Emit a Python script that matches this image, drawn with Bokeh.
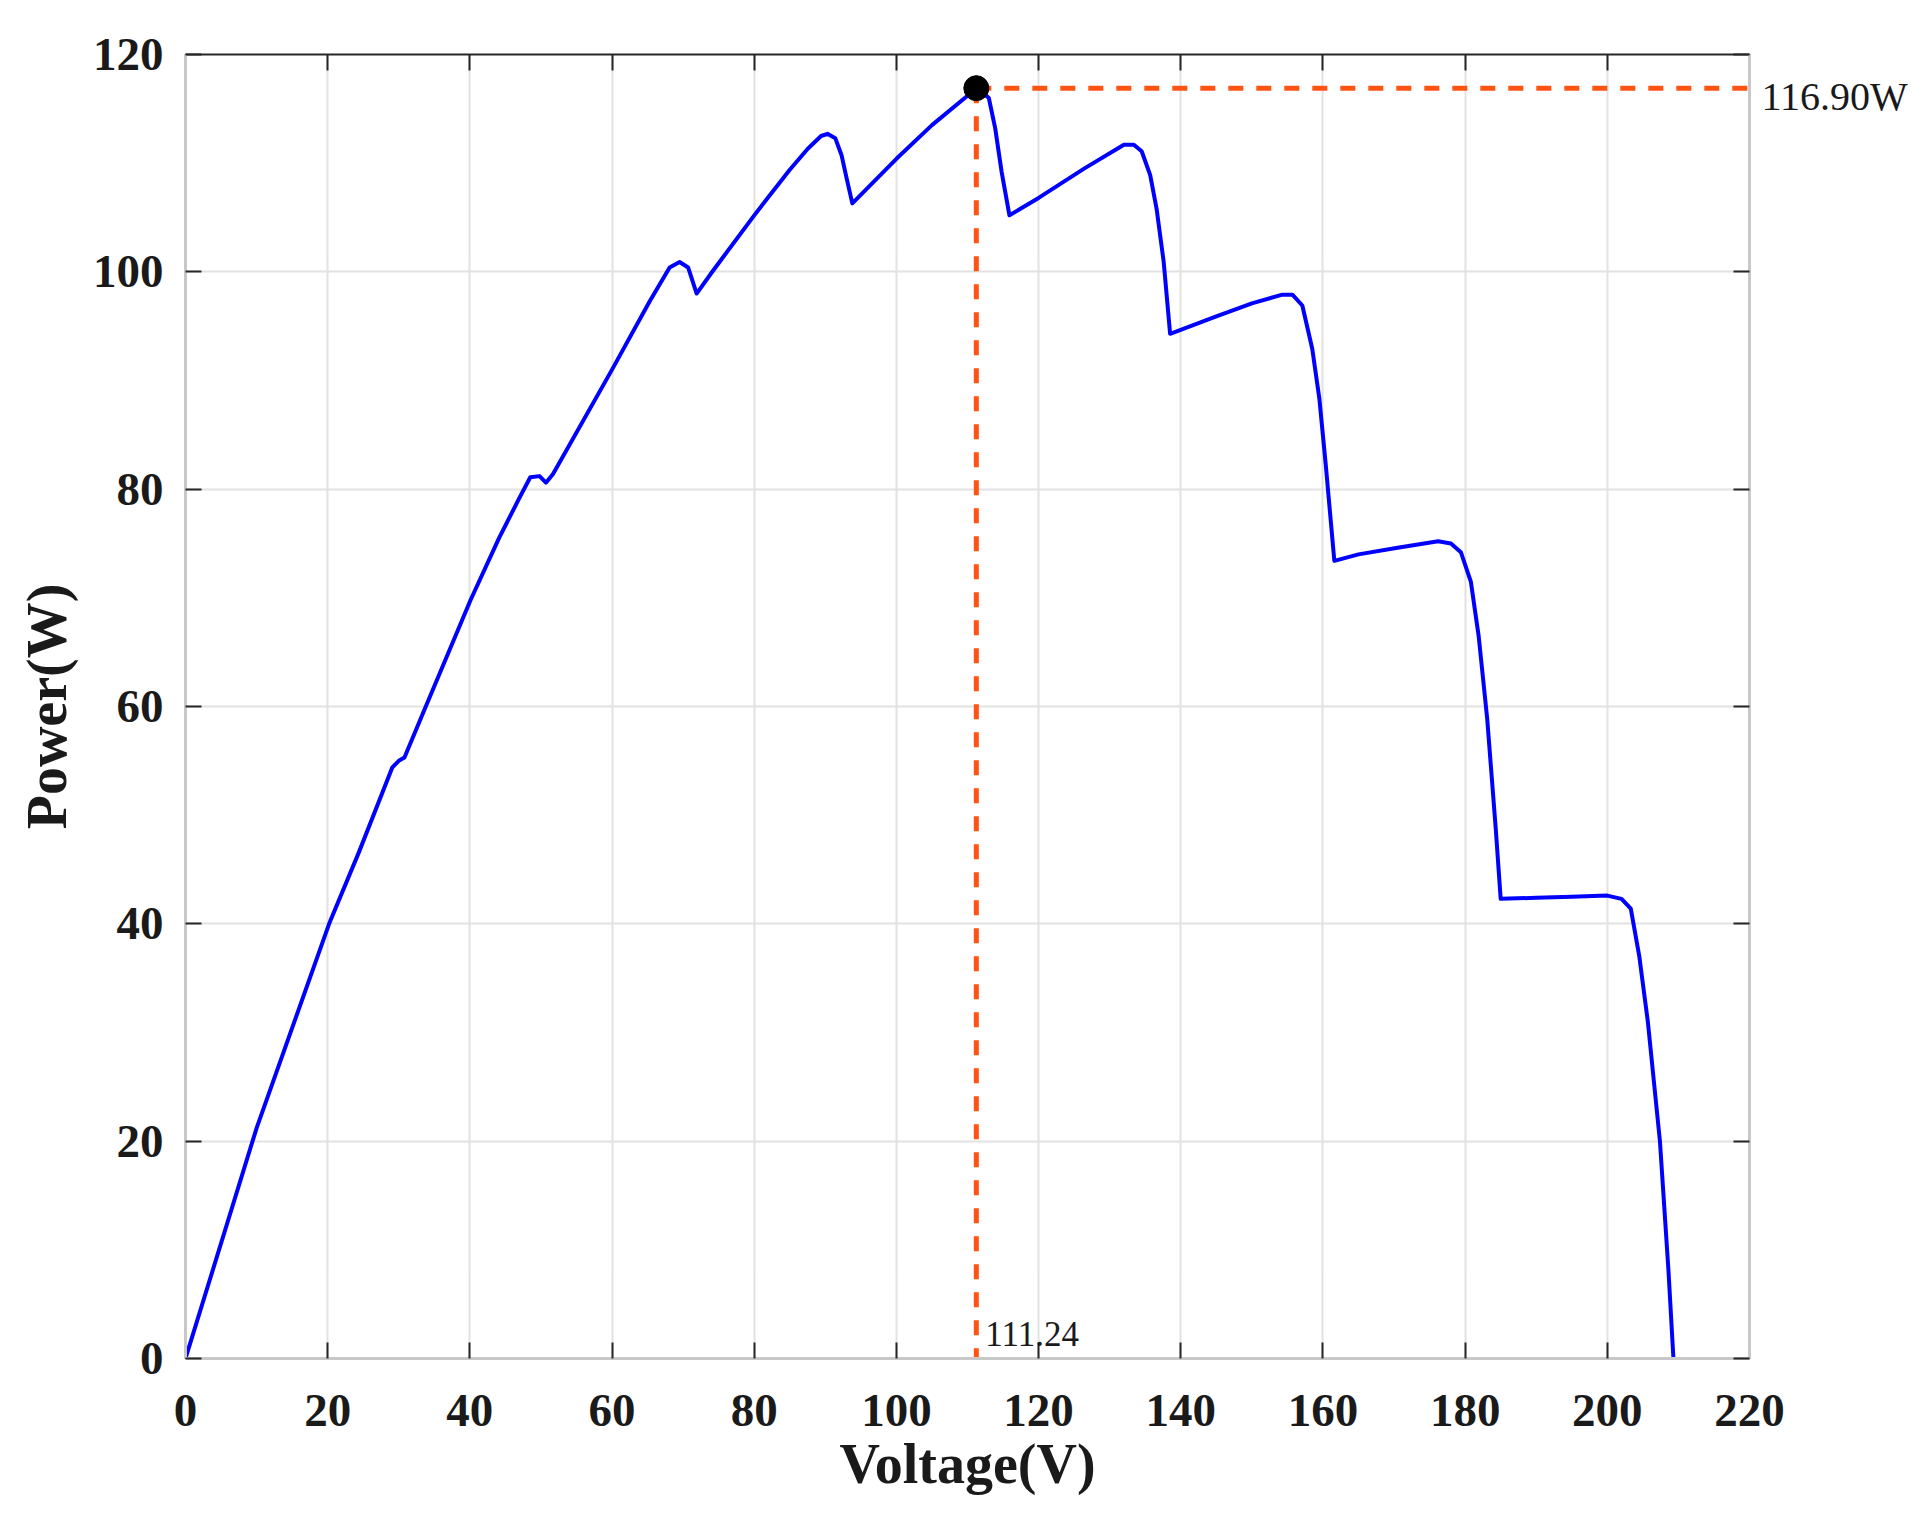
from bokeh.plotting import figure
from bokeh.models import Range1d, LinearAxis, FixedTicker, Label
from bokeh.embed import file_html
from bokeh.resources import INLINE

# ---- data ----
voltage = [0, 10.0, 20.2, 24.4, 29.1, 30.0, 30.8, 33.8, 40.1, 44.1,
           46.9, 48.5, 49.8, 50.7, 51.7, 60.0, 65.3, 68.1, 69.5, 70.7,
           71.9, 74.2, 80.0, 85.0, 87.5, 89.4, 90.3, 91.4, 92.3, 93.0,
           93.8, 100.0, 105.0, 110.0, 111.24, 112.0, 113.0, 113.9, 114.8, 115.9,
           120.0, 126.4, 132.0, 133.4, 134.5, 135.7, 136.6, 137.6, 138.5, 145.0,
           150.0, 154.3, 155.7, 157.1, 158.5, 159.5, 160.4, 161.6, 165.0, 170.5,
           176.2, 178.0, 179.4, 180.8, 181.9, 183.1, 184.3, 185.0, 190.0, 195.0,
           200.0, 202.0, 203.3, 204.5, 205.7, 207.4, 208.6, 209.3]
power = [0, 21.2, 40.0, 46.6, 54.4, 55.0, 55.3, 60.0, 69.8, 75.5,
         79.1, 81.1, 81.2, 80.6, 81.4, 91.0, 97.3, 100.4, 100.9, 100.4,
         98.0, 100.1, 105.2, 109.4, 111.3, 112.5, 112.7, 112.3, 110.7, 108.6,
         106.3, 110.4, 113.5, 116.2, 116.9, 116.6, 116.0, 113.2, 109.2, 105.2,
         106.8, 109.5, 111.7, 111.7, 111.1, 108.9, 105.8, 100.9, 94.3, 95.9,
         97.1, 97.9, 97.9, 96.9, 92.9, 88.3, 82.2, 73.4, 74.0, 74.6,
         75.2, 75.0, 74.2, 71.5, 66.5, 58.9, 48.8, 42.3, 42.4, 42.5,
         42.6, 42.3, 41.4, 37.0, 31.0, 20.0, 8.1, 0.0]

mpp_voltage = 111.24
mpp_power = 116.90
x_ticks = [0, 20, 40, 60, 80, 100, 120, 140, 160, 180, 200, 220]
y_ticks = [0, 20, 40, 60, 80, 100, 120]
x_label = "Voltage(V)"
y_label = "Power(W)"
mpp_power_text = "116.90W"
mpp_voltage_text = "111.24"
mpp_power_label_pos = 116.16   # label sits a little below the guide line

FONT = "Liberation Serif"
DARK = "#262626"
LIGHT = "#c8c8c8"
ORANGE = "#ff5314"

p = figure(frame_width=1564, frame_height=1304,
           x_range=Range1d(0, 220), y_range=Range1d(0, 120),
           output_backend="svg", toolbar_location=None,
           min_border_left=185, min_border_right=161,
           min_border_top=54, min_border_bottom=148,
           background_fill_color="white", border_fill_color="white")
p.outline_line_color = None

xt = FixedTicker(ticks=x_ticks, minor_ticks=[])
yt = FixedTicker(ticks=y_ticks, minor_ticks=[])

for ax in p.xaxis + p.yaxis:
    ax.major_label_text_font = FONT
    ax.major_label_text_font_style = "bold"
    ax.major_label_text_font_size = "47px"
    ax.major_label_text_color = "#1a1a1a"
    ax.axis_label_text_font = FONT
    ax.axis_label_text_font_style = "bold"
    ax.axis_label_text_font_size = "56px"
    ax.axis_label_text_color = "#1a1a1a"
    ax.major_tick_in = 16
    ax.major_tick_out = 0
    ax.minor_tick_in = 0
    ax.minor_tick_out = 0
    ax.major_tick_line_color = DARK
    ax.major_tick_line_width = 2
    ax.axis_line_color = LIGHT
    ax.axis_line_width = 3

p.xaxis.ticker = xt
p.yaxis.ticker = yt
p.xaxis.axis_label = x_label
p.yaxis.axis_label = y_label
p.xaxis.major_label_standoff = 36
p.xaxis.axis_label_standoff = 4
p.yaxis.major_label_standoff = 22
p.yaxis.axis_label_standoff = 12

top = LinearAxis(ticker=xt, major_label_overrides={t: "" for t in x_ticks},
                 major_tick_in=16, major_tick_out=0, minor_tick_in=0, minor_tick_out=0,
                 major_tick_line_color=DARK, major_tick_line_width=2,
                 axis_line_color=DARK, axis_line_width=2, major_label_standoff=0)
right = LinearAxis(ticker=yt, major_label_overrides={t: "" for t in y_ticks},
                   major_tick_in=16, major_tick_out=0, minor_tick_in=0, minor_tick_out=0,
                   major_tick_line_color=DARK, major_tick_line_width=2,
                   axis_line_color=LIGHT, axis_line_width=3, major_label_standoff=0)
p.add_layout(top, "above")
p.add_layout(right, "right")

# outer right axis carrying only the MPP power annotation
mpp_axis = LinearAxis(ticker=FixedTicker(ticks=[mpp_power_label_pos], minor_ticks=[]),
                      major_label_overrides={mpp_power_label_pos: mpp_power_text},
                      axis_line_color=None, major_tick_line_color=None,
                      major_tick_in=0, major_tick_out=0, minor_tick_in=0, minor_tick_out=0,
                      major_label_standoff=12,
                      major_label_text_font=FONT, major_label_text_font_size="40px",
                      major_label_text_color="#1a1a1a")
p.add_layout(mpp_axis, "right")

p.xgrid.ticker = xt
p.ygrid.ticker = yt
p.grid.grid_line_color = "#e2e2e2"
p.grid.grid_line_width = 2

p.line(voltage, power, line_color="#0000ff", line_width=4, line_join="round")

# MPP dashed guides
p.line([mpp_voltage, 220], [mpp_power, mpp_power], line_color=ORANGE,
       line_width=5, line_dash="15 13")
p.line([mpp_voltage, mpp_voltage], [mpp_power, 0], line_color=ORANGE,
       line_width=5, line_dash="15 13")
p.scatter([mpp_voltage], [mpp_power], size=25, color="black")

p.add_layout(Label(x=mpp_voltage, y=0, text=mpp_voltage_text, x_offset=9, y_offset=25,
                   text_font=FONT, text_font_size="35px", text_color="#1a1a1a",
                   text_baseline="alphabetic", text_align="left"))

open("out.html", "w").write(file_html(p, INLINE))
